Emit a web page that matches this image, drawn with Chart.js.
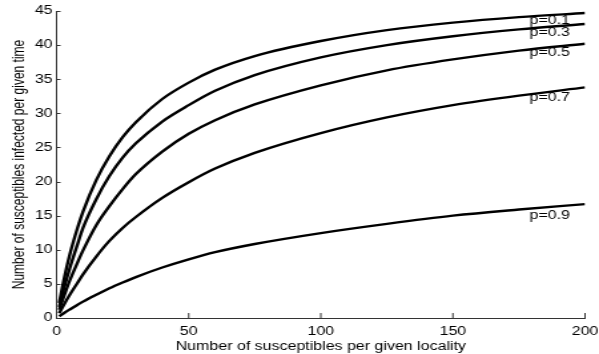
<!DOCTYPE html>
<html>
<head>
<meta charset="utf-8">
<script src="https://cdn.jsdelivr.net/npm/chart.js@4/dist/chart.umd.min.js"></script>
<style>
  html, body { margin: 0; padding: 0; background: #fff; }
  /* the original figure is stretched sideways, so draw narrow and widen with css */
  #chart { display: block; width: 599px; height: 354px; }
</style>
</head>
<body>
<canvas id="chart" width="450" height="354" style="width:599px;height:354px"></canvas>
<script>
// susceptibles per locality (x)
const xs = [1, 3, 5, 8, 10, 15, 20, 25, 30, 40, 50, 60, 75, 100, 125, 150, 175, 200];

// infected per given time, one series per p
const p01 = [2.2, 6.0, 9.3, 13.3, 15.6, 20.2, 23.7, 26.5, 28.7, 32.1, 34.5, 36.4, 38.4, 40.6, 42.2, 43.3, 44.1, 44.7];
const p03 = [1.6, 4.6, 7.3, 10.9, 13.2, 17.4, 20.8, 23.5, 25.6, 28.8, 31.2, 33.3, 35.6, 38.2, 40.0, 41.3, 42.3, 43.1];
const p05 = [1.2, 3.4, 5.5, 8.2, 9.9, 13.6, 16.4, 18.9, 21.1, 24.4, 27.0, 29.0, 31.3, 34.1, 36.3, 37.9, 39.2, 40.2];
const p07 = [0.7, 2.1, 3.4, 5.2, 6.4, 9.0, 11.3, 13.2, 14.8, 17.6, 19.9, 21.9, 24.2, 27.1, 29.4, 31.2, 32.6, 33.8];
const p09 = [0.26, 0.77, 1.25, 1.95, 2.4, 3.4, 4.35, 5.2, 6.0, 7.4, 8.6, 9.65, 10.85, 12.45, 13.8, 15.0, 15.9, 16.7];

const seriesNames = ["p=0.1", "p=0.3", "p=0.5", "p=0.7", "p=0.9"];
const series = [p01, p03, p05, p07, p09];

// where the curve labels sit, in data units
const labelX = [179, 179, 179, 179, 179];
const labelY = [43.6, 41.8, 38.9, 32.3, 15.0];

const FONT = "'Liberation Sans', Arial, sans-serif";

const curveLabels = {
    id: "curveLabels",
    afterDatasetsDraw(chart) {
        const ctx = chart.ctx;
        const xs_ = chart.scales.x, ys_ = chart.scales.y;
        ctx.save();
        ctx.font = "12px " + FONT;
        ctx.fillStyle = "#000";
        ctx.textBaseline = "middle";
        ctx.textAlign = "left";
        seriesNames.forEach((name, i) => {
            ctx.fillText(name, xs_.getPixelForValue(labelX[i]), ys_.getPixelForValue(labelY[i]));
        });
        ctx.restore();
    }
};

// small tick marks pointing into the plot
const innerTicks = {
    id: "innerTicks",
    afterDraw(chart) {
        const ctx = chart.ctx;
        const { x, y } = chart.scales;
        const area = chart.chartArea;
        ctx.save();
        ctx.strokeStyle = "#333";
        ctx.lineWidth = 1;
        ctx.beginPath();
        x.ticks.forEach(t => {
            const px = x.getPixelForValue(t.value);
            ctx.moveTo(px, area.bottom);
            ctx.lineTo(px, area.bottom - 5);
        });
        y.ticks.forEach(t => {
            const py = Math.round(y.getPixelForValue(t.value)) + 0.5;
            ctx.moveTo(area.left, py);
            ctx.lineTo(area.left + 3, py);
        });
        ctx.stroke();
        ctx.restore();
    }
};

new Chart(document.getElementById("chart"), {
    type: "line",
    data: {
        datasets: series.map((s, i) => ({
            label: seriesNames[i],
            data: s.map((v, j) => ({ x: xs[j], y: v })),
            borderColor: "#000",
            borderWidth: 2.4,
            pointRadius: 0,
            cubicInterpolationMode: "monotone",
            fill: false
        }))
    },
    options: {
        responsive: false,
        animation: false,
        devicePixelRatio: 1,
        layout: { padding: { top: 11, right: 10.5, left: 0, bottom: 0 } },
        plugins: {
            legend: { display: false },
            tooltip: { enabled: false }
        },
        scales: {
            x: {
                type: "linear",
                min: 0,
                max: 200,
                ticks: { stepSize: 50, color: "#000", font: { family: FONT, size: 12 }, padding: 6, maxRotation: 0 },
                grid: { display: false, drawTicks: false },
                border: { display: true, color: "#333", width: 1 },
                title: { display: true, text: "Number of susceptibles per given locality", color: "#000", font: { family: FONT, size: 12 }, padding: { top: 0, bottom: 0 } },
                afterFit(scale) {
                    scale.height = 36;
                    scale.paddingLeft = 0;
                    scale.paddingRight = 0;
                }
            },
            y: {
                min: 0,
                max: 45,
                ticks: { stepSize: 5, color: "#000", font: { family: FONT, size: 12 }, padding: 3 },
                grid: { display: false, drawTicks: false },
                border: { display: true, color: "#333", width: 1 },
                title: { display: true, text: "Number of susceptibles infected per given time", color: "#000", font: { family: FONT, size: 12 }, padding: { top: 7, bottom: 0 } },
                afterFit(scale) {
                    scale.width = 42.5;
                    scale.paddingTop = 0;
                    scale.paddingBottom = 0;
                }
            }
        }
    },
    plugins: [curveLabels, innerTicks]
});
</script>
</body>
</html>
